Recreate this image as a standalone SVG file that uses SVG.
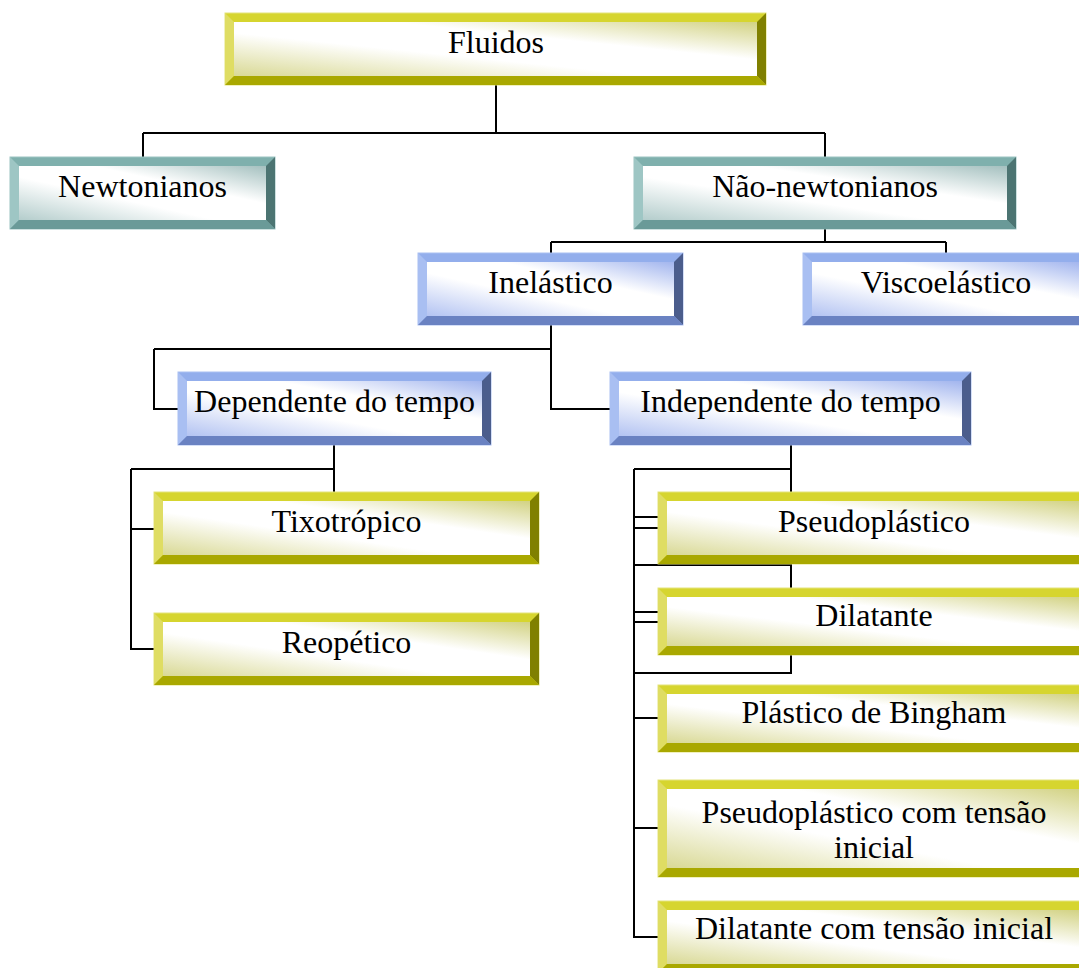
<svg xmlns="http://www.w3.org/2000/svg" width="1079" height="968" viewBox="0 0 1079 968">
<defs>
<linearGradient id="gy" x1="0" y1="1" x2="1" y2="0">
<stop offset="0" stop-color="#d9d995"/><stop offset="0.4" stop-color="#ffffff"/><stop offset="0.65" stop-color="#ffffff"/><stop offset="1" stop-color="#d2d283"/>
</linearGradient>
<linearGradient id="gt" x1="0" y1="1" x2="1" y2="0">
<stop offset="0" stop-color="#b4cdcc"/><stop offset="0.4" stop-color="#ffffff"/><stop offset="0.65" stop-color="#ffffff"/><stop offset="1" stop-color="#a4c0bf"/>
</linearGradient>
<linearGradient id="gb" x1="0" y1="1" x2="1" y2="0">
<stop offset="0" stop-color="#b3c3f2"/><stop offset="0.4" stop-color="#ffffff"/><stop offset="0.65" stop-color="#ffffff"/><stop offset="1" stop-color="#a2b5ee"/>
</linearGradient>
</defs>
<style>
.yel .t{fill:#d6d52f;stroke:#e4e37c;stroke-width:1}
.yel .l{fill:#dfdd63}
.yel .r{fill:#808000}
.yel .b{fill:#a9a800}
.yel .f{fill:url(#gy)}
.teal .t{fill:#7fb0ad;stroke:#9cc4c2;stroke-width:1}
.teal .l{fill:#9ec6c4}
.teal .r{fill:#4c7472}
.teal .b{fill:#6a9a98}
.teal .f{fill:url(#gt)}
.blu .t{fill:#93aeec;stroke:#a9bff2;stroke-width:1}
.blu .l{fill:#a9bff2}
.blu .r{fill:#4b5d8c}
.blu .b{fill:#6a82c2}
.blu .f{fill:url(#gb)}
text{font-family:"Liberation Serif","Times New Roman",serif;font-size:32px;fill:#000;text-anchor:middle}
.c{fill:none;stroke:#000;stroke-width:2}
</style>
<rect width="1079" height="968" fill="#fff"/>
<g id="connectors" class="c">
<path d="M496 85V133M143 133H825M143 133V157M825 133V157"/>
<path d="M825 229V242M551 242H946M551 242V253M946 242V253"/>
<path d="M551 325V409H610M154 349H551M154 349V409H178"/>
<path d="M334 445V492M131 469H334M131 469V649H154M131 529H154"/>
<path d="M791 445V492M634 469H791M634 469V937H658M634 517H658M634 528H658M634 565H791V588M634 612H658M634 622H658M634 673H791V655M634 718H658M634 828H658"/>
</g>
<g id="n-fluidos" class="yel">
<rect class="t" x="225" y="13" width="541" height="72"/>
<polygon class="l" points="225,13 234,22 234,76 225,85"/>
<polygon class="r" points="766,13 757,22 757,76 766,85"/>
<polygon class="b" points="225,85 234,76 757,76 766,85"/>
<rect class="f" x="234" y="22" width="523" height="54"/>
<text x="496" y="53">Fluidos</text>
</g>
<g id="n-newtonianos" class="teal">
<rect class="t" x="10" y="157" width="265" height="72"/>
<polygon class="l" points="10,157 19,166 19,220 10,229"/>
<polygon class="r" points="275,157 266,166 266,220 275,229"/>
<polygon class="b" points="10,229 19,220 266,220 275,229"/>
<rect class="f" x="19" y="166" width="247" height="54"/>
<text x="142.5" y="197">Newtonianos</text>
</g>
<g id="n-nao-newtonianos" class="teal">
<rect class="t" x="634" y="157" width="382" height="72"/>
<polygon class="l" points="634,157 643,166 643,220 634,229"/>
<polygon class="r" points="1016,157 1007,166 1007,220 1016,229"/>
<polygon class="b" points="634,229 643,220 1007,220 1016,229"/>
<rect class="f" x="643" y="166" width="364" height="54"/>
<text x="825" y="197">Não-newtonianos</text>
</g>
<g id="n-inelastico" class="blu">
<rect class="t" x="418" y="253" width="265" height="72"/>
<polygon class="l" points="418,253 427,262 427,316 418,325"/>
<polygon class="r" points="683,253 674,262 674,316 683,325"/>
<polygon class="b" points="418,325 427,316 674,316 683,325"/>
<rect class="f" x="427" y="262" width="247" height="54"/>
<text x="550.5" y="293">Inelástico</text>
</g>
<g id="n-viscoelastico" class="blu">
<rect class="t" x="803" y="253" width="286" height="72"/>
<polygon class="l" points="803,253 812,262 812,316 803,325"/>
<polygon class="r" points="1089,253 1080,262 1080,316 1089,325"/>
<polygon class="b" points="803,325 812,316 1080,316 1089,325"/>
<rect class="f" x="812" y="262" width="268" height="54"/>
<text x="946" y="293">Viscoelástico</text>
</g>
<g id="n-dependente" class="blu">
<rect class="t" x="178" y="372" width="313" height="73"/>
<polygon class="l" points="178,372 187,381 187,436 178,445"/>
<polygon class="r" points="491,372 482,381 482,436 491,445"/>
<polygon class="b" points="178,445 187,436 482,436 491,445"/>
<rect class="f" x="187" y="381" width="295" height="55"/>
<text x="334.5" y="412">Dependente do tempo</text>
</g>
<g id="n-independente" class="blu">
<rect class="t" x="610" y="372" width="361" height="73"/>
<polygon class="l" points="610,372 619,381 619,436 610,445"/>
<polygon class="r" points="971,372 962,381 962,436 971,445"/>
<polygon class="b" points="610,445 619,436 962,436 971,445"/>
<rect class="f" x="619" y="381" width="343" height="55"/>
<text x="790.5" y="412">Independente do tempo</text>
</g>
<g id="n-tixotropico" class="yel">
<rect class="t" x="154" y="492" width="385" height="72"/>
<polygon class="l" points="154,492 163,501 163,555 154,564"/>
<polygon class="r" points="539,492 530,501 530,555 539,564"/>
<polygon class="b" points="154,564 163,555 530,555 539,564"/>
<rect class="f" x="163" y="501" width="367" height="54"/>
<text x="346.5" y="532">Tixotrópico</text>
</g>
<g id="n-reopetico" class="yel">
<rect class="t" x="154" y="613" width="385" height="72"/>
<polygon class="l" points="154,613 163,622 163,676 154,685"/>
<polygon class="r" points="539,613 530,622 530,676 539,685"/>
<polygon class="b" points="154,685 163,676 530,676 539,685"/>
<rect class="f" x="163" y="622" width="367" height="54"/>
<text x="346.5" y="653">Reopético</text>
</g>
<g id="n-pseudoplastico" class="yel">
<rect class="t" x="658" y="492" width="432" height="72"/>
<polygon class="l" points="658,492 667,501 667,555 658,564"/>
<polygon class="r" points="1090,492 1081,501 1081,555 1090,564"/>
<polygon class="b" points="658,564 667,555 1081,555 1090,564"/>
<rect class="f" x="667" y="501" width="414" height="54"/>
<text x="874" y="532">Pseudoplástico</text>
</g>
<g id="n-dilatante" class="yel">
<rect class="t" x="658" y="588" width="432" height="67"/>
<polygon class="l" points="658,588 667,597 667,646 658,655"/>
<polygon class="r" points="1090,588 1081,597 1081,646 1090,655"/>
<polygon class="b" points="658,655 667,646 1081,646 1090,655"/>
<rect class="f" x="667" y="597" width="414" height="49"/>
<text x="874" y="626">Dilatante</text>
</g>
<g id="n-bingham" class="yel">
<rect class="t" x="658" y="685" width="432" height="67"/>
<polygon class="l" points="658,685 667,694 667,743 658,752"/>
<polygon class="r" points="1090,685 1081,694 1081,743 1090,752"/>
<polygon class="b" points="658,752 667,743 1081,743 1090,752"/>
<rect class="f" x="667" y="694" width="414" height="49"/>
<text x="874" y="723">Plástico de Bingham</text>
</g>
<g id="n-pseudo-tensao" class="yel">
<rect class="t" x="658" y="780" width="432" height="97"/>
<polygon class="l" points="658,780 667,789 667,868 658,877"/>
<polygon class="r" points="1090,780 1081,789 1081,868 1090,877"/>
<polygon class="b" points="658,877 667,868 1081,868 1090,877"/>
<rect class="f" x="667" y="789" width="414" height="79"/>
<text x="874" y="823">Pseudoplástico com tensão</text>
<text x="874" y="858">inicial</text>
</g>
<g id="n-dilatante-tensao" class="yel">
<rect class="t" x="658" y="901" width="432" height="72"/>
<polygon class="l" points="658,901 667,910 667,964 658,973"/>
<polygon class="r" points="1090,901 1081,910 1081,964 1090,973"/>
<polygon class="b" points="658,973 667,964 1081,964 1090,973"/>
<rect class="f" x="667" y="910" width="414" height="54"/>
<text x="874" y="939">Dilatante com tensão inicial</text>
</g>
</svg>
